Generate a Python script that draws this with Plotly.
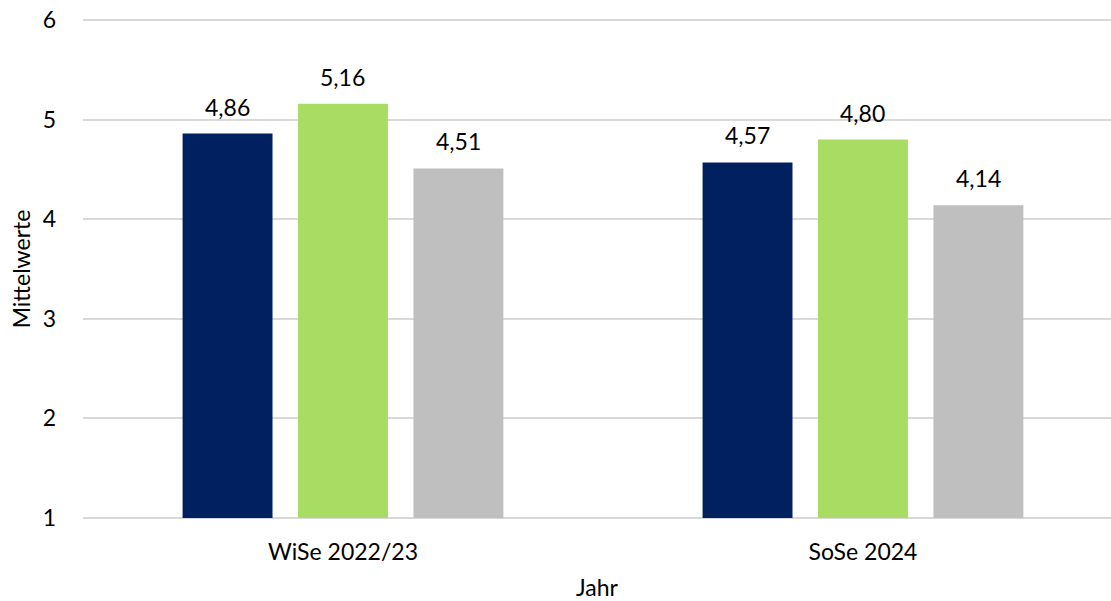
import plotly.graph_objects as go

categories = ["WiSe 2022/23", "SoSe 2024"]
series_names = ["Reihe 1", "Reihe 2", "Reihe 3"]
series_values = [
    [4.86, 4.57],
    [5.16, 4.80],
    [4.51, 4.14],
]
colors = ["#002060", "#A9DC62", "#BFBFBF"]
y_ticks = [1, 2, 3, 4, 5, 6]
y_floor = 1

FONT = "Lato"
FS = 23
bargap = 0.334
bargroupgap = 0.221

fig = go.Figure()
for name, vals, col in zip(series_names, series_values, colors):
    # bars start at the axis floor (1)
    fig.add_trace(go.Bar(
        x=categories, y=[v - y_floor for v in vals], base=y_floor, name=name,
        marker=dict(color=col, line=dict(width=0)),
        hoverinfo="skip",
    ))

# value labels above bars
n = len(series_values)
slot = (1 - bargap) / n
annotations = []
for i, vals in enumerate(series_values):
    for j, v in enumerate(vals):
        annotations.append(dict(
            x=j + (i - (n - 1) / 2) * slot, y=v, xref="x", yref="y",
            text=f"{v:.2f}".replace(".", ","), showarrow=False,
            yshift=27, font=dict(family=FONT, size=FS, color="#000000"),
        ))

fig.update_layout(
    width=1111, height=601,
    margin=dict(l=83, r=0, t=17, b=80),
    paper_bgcolor="white", plot_bgcolor="white",
    barmode="group", bargap=bargap, bargroupgap=bargroupgap,
    showlegend=False,
    font=dict(family=FONT, size=FS, color="#000000"),
    annotations=annotations,
    xaxis=dict(
        type="category", range=[-0.5, 1.477], automargin=False,
        showgrid=False, showline=False, ticks="",
        ticklabelstandoff=15,
        title=dict(text="Jahr", standoff=23, font=dict(size=FS)),
        tickfont=dict(size=FS),
    ),
    yaxis=dict(
        range=[0.97, 6.03], tickvals=y_ticks, automargin=False,
        showgrid=True, gridcolor="#D9D9D9", gridwidth=1.5,
        zeroline=False, showline=False, ticks="",
        ticklabelstandoff=26,
        title=dict(text="Mittelwerte", standoff=5, font=dict(size=FS)),
        tickfont=dict(size=FS),
    ),
)

fig.write_html("out.html", config={"displayModeBar": False},
               post_script="document.body.style.margin='0';")
